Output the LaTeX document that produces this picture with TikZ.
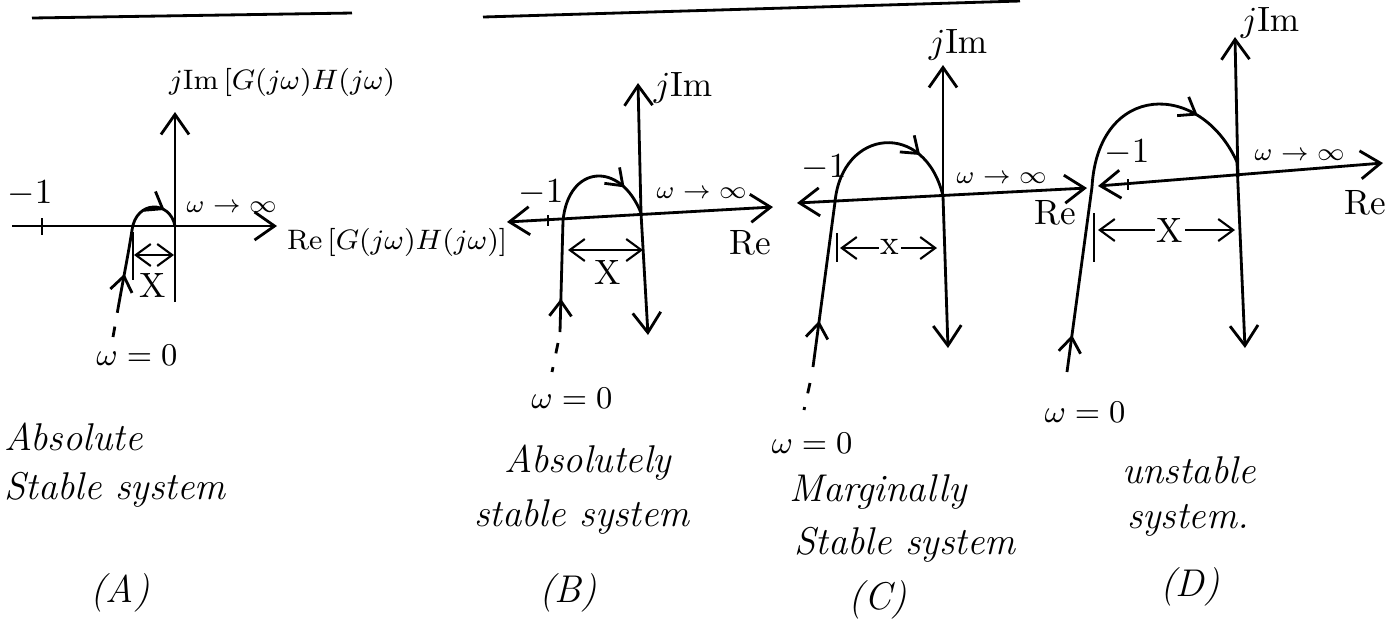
\documentclass[tikz,border=0pt]{standalone}
\usetikzlibrary{arrows.meta,decorations.markings}

\begin{document}
\begin{tikzpicture}[x=0.01cm, y=-0.01cm,
  axis/.style={line width=0.8pt, -{Straight Barb[length=2mm, width=2.8mm]}},
  biaxis/.style={line width=0.8pt, {Straight Barb[length=2mm, width=2.8mm]}-{Straight Barb[length=2mm, width=2.8mm]}},
  curve/.style={line width=0.8pt},
  dirmark/.style={postaction={decorate}, decoration={markings,
    mark=at position #1 with {\arrow{Straight Barb[length=1.5mm, width=2.2mm]}}}},
  dimarr/.style={line width=0.6pt, {Straight Barb[length=1.5mm, width=2.2mm]}-{Straight Barb[length=1.5mm, width=2.2mm]}},
  trace/.style={line width=0.8pt, dash pattern=on 3pt off 4pt},
  hand/.style={font=\fontsize{11}{13}\selectfont\itshape, inner sep=1pt},
  axlbl/.style={font=\normalsize, inner sep=1pt},
  tinylbl/.style={font=\scriptsize, inner sep=1pt}]
  \useasboundingbox (0,0) rectangle (1399,623);

  % headings underlined
  \draw[curve] (32,18) -- (352,13);
  \draw[curve] (483,17) -- (1020,1);

  % (A) absolute stable
  \coordinate (oA) at (175,226);
  \coordinate (nA) at (132,230);
  \draw[axis] (12,226) -- (277,226);
  \draw[axis] (175,302) -- (175,112);
  \draw[curve] (42,218) -- (42,235);
  \node[axlbl] (mA) at (30,194) {$-1$};
  \draw[trace] (113,337) -- (119,303);
  \draw[curve, dirmark=0.4] (119,303) .. controls (125,270) and (129,250) .. (nA);
  \draw[curve, dirmark=0.7] (nA) .. controls (136,200) and (170,200) .. (oA);
  \draw[curve] (133,232) -- (133,280);
  \draw[dimarr] (134,255) -- (174,255);
  \node[axlbl] (xA) at (153,285) {X};
  \node[tinylbl, anchor=west] (wA) at (182,207) {$\omega\to\infty$};
  \node[axlbl, font=\footnotesize, anchor=west] (imA) at (165,82) {$j\mathrm{Im}\,[G(j\omega)H(j\omega)$};
  \node[axlbl, font=\footnotesize, anchor=west] (reA) at (283,242) {$\mathrm{Re}\,[G(j\omega)H(j\omega)]$};
  \node[font=\small, inner sep=1pt] (zA) at (137,355) {$\omega=0$};
  \node[hand, anchor=west] (sA1) at (0,437) {Absolute};
  \node[hand, anchor=west] (sA2) at (0,490) {Stable system};
  \node[hand] (tA) at (120,593) {(A)};

  % (B) absolutely stable
  \coordinate (oB) at (641,213);
  \coordinate (nB) at (563,221);
  \draw[biaxis] (507,222) -- (773,207);
  \draw[axis] (oB) -- (638,83);
  \draw[curve] (548,215) -- (548,226);
  \node[axlbl] (mB) at (541,193) {$-1$};
  \node[axlbl] (imB) at (683,88) {$j\mathrm{Im}$};
  \draw[trace] (558,343) -- (552,372);
  \draw[curve, dirmark=0.3] (560,332) -- (nB);
  \draw[curve, dirmark=0.75] (nB) .. controls (568,165) and (620,160) .. (oB);
  \draw[axis] (oB) -- (648,335);
  \draw[dimarr] (568,250) -- (643,250);
  \node[axlbl] (xB) at (608,272) {X};
  \node[tinylbl, anchor=west] (wB) at (652,193) {$\omega\to\infty$};
  \node[axlbl] (reB) at (750,243) {Re};
  \node[font=\small, inner sep=1pt] (zB) at (572,398) {$\omega=0$};
  \node[hand] (sB1) at (588,463) {Absolutely};
  \node[hand] (sB2) at (582,517) {stable system};
  \node[hand] (tB) at (568,593) {(B)};

  % (C) marginally stable
  \coordinate (oC) at (943,196);
  \coordinate (nC) at (835,202);
  \draw[biaxis] (797,203) -- (1087,188);
  \draw[axis] (oC) -- (943,65);
  \node[axlbl] (mC) at (824,168) {$-1$};
  \node[axlbl] (imC) at (958,45) {$j\mathrm{Im}$};
  \draw[trace] (810,383) -- (804,410);
  \draw[curve, dirmark=0.28] (813,367) -- (nC);
  \draw[curve, dirmark=0.72] (nC) .. controls (842,128) and (925,120) .. (oC);
  \draw[axis] (oC) -- (948,348);
  \draw[curve] (837,233) -- (837,262);
  \draw[dimarr] (840,248) -- (937,248);
  \node[axlbl, fill=white, inner sep=0.5pt] (xC) at (890,247) {x};
  \node[tinylbl, anchor=west] (wC) at (952,178) {$\omega\to\infty$};
  \node[axlbl] (reC) at (1055,213) {Re};
  \node[font=\small, inner sep=1pt] (zC) at (812,443) {$\omega=0$};
  \node[hand] (sC1) at (878,492) {Marginally};
  \node[hand] (sC2) at (905,545) {Stable system};
  \node[hand] (tC) at (878,600) {(C)};

  % (D) unstable
  \coordinate (oD) at (1238,177);
  \coordinate (nD) at (1092,187);
  \coordinate (eD) at (1237,162);
  \draw[biaxis] (1098,186) -- (1383,163);
  \draw[axis] (oD) -- (1235,37);
  \draw[curve] (1128,179) -- (1128,190);
  \node[axlbl] (mD) at (1127,153) {$-1$};
  \node[axlbl] (imD) at (1270,23) {$j\mathrm{Im}$};
  \draw[curve, dirmark=0.2] (1067,372) -- (nD);
  \draw[curve, dirmark=0.72] (nD) .. controls (1098,82) and (1200,80) .. (eD);
  \draw[axis] (eD) -- (1245,348);
  \draw[curve] (1094,213) -- (1094,262);
  \draw[dimarr] (1098,230) -- (1235,230);
  \node[axlbl, fill=white, inner sep=0.5pt] (xD) at (1170,230) {X};
  \node[tinylbl, anchor=west] (wD) at (1250,155) {$\omega\to\infty$};
  \node[axlbl] (reD) at (1365,203) {Re};
  \node[font=\small, inner sep=1pt] (zD) at (1085,412) {$\omega=0$};
  \node[hand] (sD1) at (1189,470) {unstable};
  \node[hand] (sD2) at (1188,520) {system.};
  \node[hand] (tD) at (1190,587) {(D)};
\end{tikzpicture}
\end{document}
